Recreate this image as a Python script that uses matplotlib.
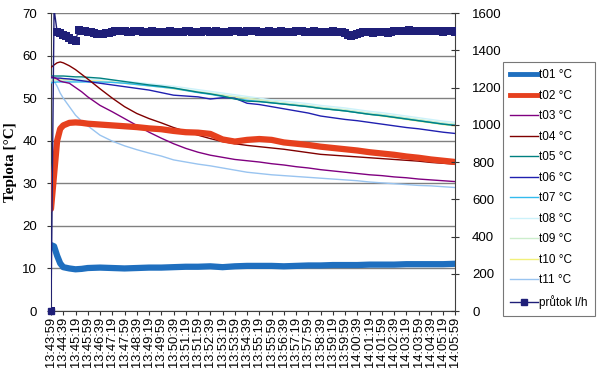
import matplotlib
matplotlib.use("Agg")
import matplotlib.pyplot as plt
from matplotlib.lines import Line2D

# time of temperature samples (seconds after 13:43:59)
t_temp = [0, 10, 20, 30, 40, 60, 80, 100, 120, 160, 200, 240, 280, 320, 360, 400,
          440, 480, 520, 560, 600, 640, 680, 720, 760, 800, 840, 880, 920, 960,
          1000, 1040, 1080, 1120, 1160, 1200, 1240, 1280, 1320]

t01 = [15.5, 15.2, 13.0, 11.2, 10.3, 10.0, 9.8, 9.9, 10.1, 10.2, 10.1, 10.0, 10.1,
       10.2, 10.2, 10.3, 10.4, 10.4, 10.5, 10.3, 10.5, 10.6, 10.6, 10.6, 10.5, 10.6,
       10.7, 10.7, 10.8, 10.8, 10.8, 10.9, 10.9, 10.9, 11.0, 11.0, 11.0, 11.0, 11.1]
t02 = [24.0, 32.0, 40.0, 42.8, 43.6, 44.2, 44.3, 44.2, 44.0, 43.8, 43.6, 43.4, 43.2,
       42.9, 42.7, 42.3, 42.0, 41.9, 41.6, 40.3, 39.8, 40.2, 40.4, 40.2, 39.6, 39.3,
       39.0, 38.6, 38.3, 38.0, 37.7, 37.3, 37.0, 36.7, 36.3, 36.0, 35.6, 35.3, 35.0]
t03 = [55.0, 54.8, 54.5, 54.0, 53.8, 53.5, 52.5, 51.5, 50.3, 48.3, 46.8, 45.2, 43.6,
       42.0, 40.6, 39.3, 38.2, 37.3, 36.6, 36.1, 35.6, 35.3, 35.0, 34.6, 34.3, 33.9,
       33.6, 33.2, 32.9, 32.6, 32.3, 32.0, 31.8, 31.5, 31.3, 31.0, 30.8, 30.6, 30.4]
t04 = [57.2, 57.8, 58.3, 58.5, 58.3, 57.6, 56.7, 55.6, 54.5, 52.2, 50.0, 48.0, 46.4,
       45.2, 44.2, 43.1, 42.2, 41.3, 40.5, 39.8, 39.3, 38.9, 38.6, 38.3, 38.0, 37.6,
       37.2, 36.8, 36.6, 36.4, 36.2, 36.0, 35.8, 35.6, 35.4, 35.2, 34.9, 34.7, 34.5]
t05 = [55.2, 55.2, 55.2, 55.2, 55.2, 55.1, 55.0, 55.0, 54.9, 54.7, 54.3, 53.9, 53.5,
       53.1, 52.8, 52.4, 51.9, 51.4, 51.0, 50.5, 49.8, 49.3, 49.2, 48.9, 48.6, 48.3,
       48.0, 47.6, 47.3, 47.0, 46.6, 46.2, 45.9, 45.5, 45.1, 44.7, 44.3, 43.9, 43.6]
t06 = [54.8, 54.8, 54.7, 54.7, 54.6, 54.5, 54.3, 54.1, 53.9, 53.5, 53.1, 52.7, 52.3,
       51.9, 51.3, 50.7, 50.5, 50.3, 49.8, 50.1, 50.0, 48.8, 48.5, 48.0, 47.5, 47.0,
       46.5, 45.8, 45.4, 45.0, 44.7, 44.3, 43.9, 43.5, 43.1, 42.8, 42.4, 42.0, 41.7]
t07 = [53.6, 53.7, 53.8, 53.8, 53.8, 53.8, 53.8, 53.8, 53.8, 53.8, 53.7, 53.5, 53.2,
       52.9, 52.6, 52.3, 51.8, 51.3, 50.9, 50.4, 49.9, 49.5, 49.2, 48.9, 48.6, 48.3,
       48.0, 47.6, 47.3, 47.0, 46.6, 46.2, 45.9, 45.5, 45.1, 44.7, 44.3, 43.9, 43.6]
t08 = [54.5, 54.6, 54.6, 54.6, 54.6, 54.6, 54.6, 54.5, 54.5, 54.4, 54.2, 54.0, 53.7,
       53.4, 53.1, 52.8, 52.4, 52.0, 51.6, 51.2, 50.8, 50.4, 50.0, 49.6, 49.3, 49.0,
       48.7, 48.3, 48.0, 47.7, 47.3, 46.9, 46.6, 46.2, 45.8, 45.4, 45.0, 44.6, 44.3]
t09 = [54.0, 54.1, 54.1, 54.1, 54.1, 54.1, 54.1, 54.1, 54.0, 53.9, 53.8, 53.6, 53.3,
       53.0, 52.7, 52.4, 52.0, 51.6, 51.2, 50.8, 50.4, 50.0, 49.6, 49.2, 48.9, 48.6,
       48.3, 47.9, 47.6, 47.3, 46.9, 46.5, 46.2, 45.8, 45.4, 45.0, 44.6, 44.2, 43.9]
t10 = [54.3, 54.3, 54.3, 54.3, 54.3, 54.3, 54.2, 54.2, 54.1, 54.0, 53.8, 53.5, 53.2,
       52.9, 52.6, 52.2, 51.8, 51.4, 51.0, 50.6, 50.2, 50.0, 49.6, 49.2, 48.8, 48.4,
       48.0, 47.6, 47.3, 47.0, 46.6, 46.2, 45.8, 45.4, 45.0, 44.6, 44.2, 43.8, 43.5]
t11 = [54.3, 54.0, 52.8, 51.2, 50.0, 48.0, 46.0, 44.6, 43.5, 41.3, 39.9, 38.8, 37.9,
       37.1, 36.4, 35.5, 35.0, 34.5, 34.1, 33.6, 33.1, 32.6, 32.3, 32.0, 31.8, 31.6,
       31.4, 31.2, 31.0, 30.8, 30.6, 30.3, 30.1, 29.9, 29.7, 29.5, 29.4, 29.2, 29.0]

# flow [l/h], one reading every 10 s
t_flow = list(range(0, 1330, 10))
flow = [0, 1620, 1500, 1490, 1480, 1475, 1465, 1455, 1450, 1510,
        1505, 1505, 1500, 1500, 1495, 1488, 1487, 1487, 1490, 1490,
        1500, 1503, 1505, 1505, 1503, 1500, 1500, 1502, 1505, 1503,
        1500, 1498, 1500, 1502, 1500, 1498, 1497, 1500, 1500, 1502,
        1500, 1498, 1500, 1500, 1503, 1502, 1500, 1500, 1498, 1500,
        1502, 1503, 1500, 1500, 1502, 1500, 1498, 1500, 1500, 1502,
        1503, 1502, 1500, 1500, 1502, 1503, 1505, 1503, 1500, 1500,
        1500, 1502, 1500, 1498, 1500, 1502, 1500, 1500, 1498, 1500,
        1502, 1503, 1502, 1500, 1500, 1500, 1502, 1500, 1500, 1498,
        1500, 1500, 1502, 1500, 1498, 1497, 1490, 1482, 1478, 1480,
        1488, 1495, 1497, 1498, 1497, 1495, 1497, 1498, 1500, 1497,
        1495, 1497, 1503, 1505, 1505, 1503, 1505, 1507, 1505, 1503,
        1505, 1505, 1503, 1502, 1505, 1505, 1503, 1502, 1500, 1503,
        1505, 1503, 1500]

tick_labels = ["13:43:59", "13:44:39", "13:45:19", "13:45:59", "13:46:39", "13:47:19",
               "13:47:59", "13:48:39", "13:49:19", "13:49:59", "13:50:39", "13:51:19",
               "13:51:59", "13:52:39", "13:53:19", "13:53:59", "13:54:39", "13:55:19",
               "13:55:59", "13:56:39", "13:57:19", "13:57:59", "13:58:39", "13:59:19",
               "13:59:59", "14:00:39", "14:01:19", "14:01:59", "14:02:39", "14:03:19",
               "14:03:59", "14:04:39", "14:05:19", "14:05:59"]
tick_step = 40

series = [("t01 °C", t01, "#1F6FBF", 4.5),
          ("t02 °C", t02, "#E6401E", 4.5),
          ("t03 °C", t03, "#800080", 1.0),
          ("t04 °C", t04, "#800000", 1.0),
          ("t05 °C", t05, "#008080", 1.0),
          ("t06 °C", t06, "#2020B0", 1.0),
          ("t07 °C", t07, "#33BBEE", 1.0),
          ("t08 °C", t08, "#CCF2FA", 1.0),
          ("t09 °C", t09, "#CCEECC", 1.0),
          ("t10 °C", t10, "#F2F07A", 1.0),
          ("t11 °C", t11, "#99C4F0", 1.0)]
flow_color = "#1F1F78"

plt.rcParams['font.family'] = ['Liberation Sans', 'DejaVu Sans']

fig = plt.figure(figsize=(6.0, 3.78), dpi=100)
ax = fig.add_axes([0.085, 0.1772, 0.674, 0.7884])
ax2 = ax.twinx()

handles = []
for name, vals, col, lw in reversed(series):
    ax.plot(t_temp, vals, color=col, lw=lw, solid_capstyle='round', zorder=3)
for name, vals, col, lw in series:
    handles.append(Line2D([], [], color=col, lw=min(lw, 3.5)))

ax2.plot(t_flow, flow, color=flow_color, lw=1.0, marker='s', markersize=5.5,
         markeredgewidth=0, zorder=3)
ax2.plot(t_flow[:1], flow[:1], color=flow_color, marker='s', markersize=5,
         linestyle='none', clip_on=False, zorder=4)
handles.append(Line2D([], [], color=flow_color, lw=1.0, marker='s', markersize=5))

ax.set_xlim(0, t_temp[-1])
ax.set_ylim(0, 70)
ax2.set_ylim(0, 1600)
ax.set_yticks(range(0, 71, 10))
ax2.set_yticks(range(0, 1601, 200))
ax.set_xticks([i * tick_step for i in range(len(tick_labels))])
ax.set_xticklabels(tick_labels, rotation=90, fontsize=9.3)
ax.tick_params(axis='x', length=3, pad=1, color='#333333')
ax.tick_params(axis='y', labelsize=9.5, length=3, pad=7, color='#333333')
ax2.tick_params(axis='y', labelsize=9.5, length=6, direction='inout', pad=9, color='#333333')

ax.grid(axis='y', color='#808080', lw=1.0)
ax.set_axisbelow(True)
for a in (ax, ax2):
    a.spines['top'].set_visible(False)
    a.spines['left'].set_color('#404040')
    a.spines['right'].set_color('#404040')
    a.spines['bottom'].set_color('#404040')
ax.spines['right'].set_visible(False)
ax2.spines['left'].set_visible(False)
ax2.spines['bottom'].set_visible(False)

ax.set_ylabel("Teplota [°C]", family=['Liberation Serif', 'DejaVu Serif'],
              fontweight='bold', fontsize=11, labelpad=4)

labels = [s[0] for s in series] + ["průtok l/h"]
leg = fig.legend(handles, labels, loc='upper left', bbox_to_anchor=(0.838, 0.835),
                 fontsize=8.5, frameon=True, fancybox=False, borderaxespad=0,
                 handlelength=2.4, handletextpad=0.1, labelspacing=0.72,
                 borderpad=0.6)
leg.get_frame().set_edgecolor('#555555')
leg.get_frame().set_linewidth(0.8)

fig.savefig("out.png", dpi=100)
